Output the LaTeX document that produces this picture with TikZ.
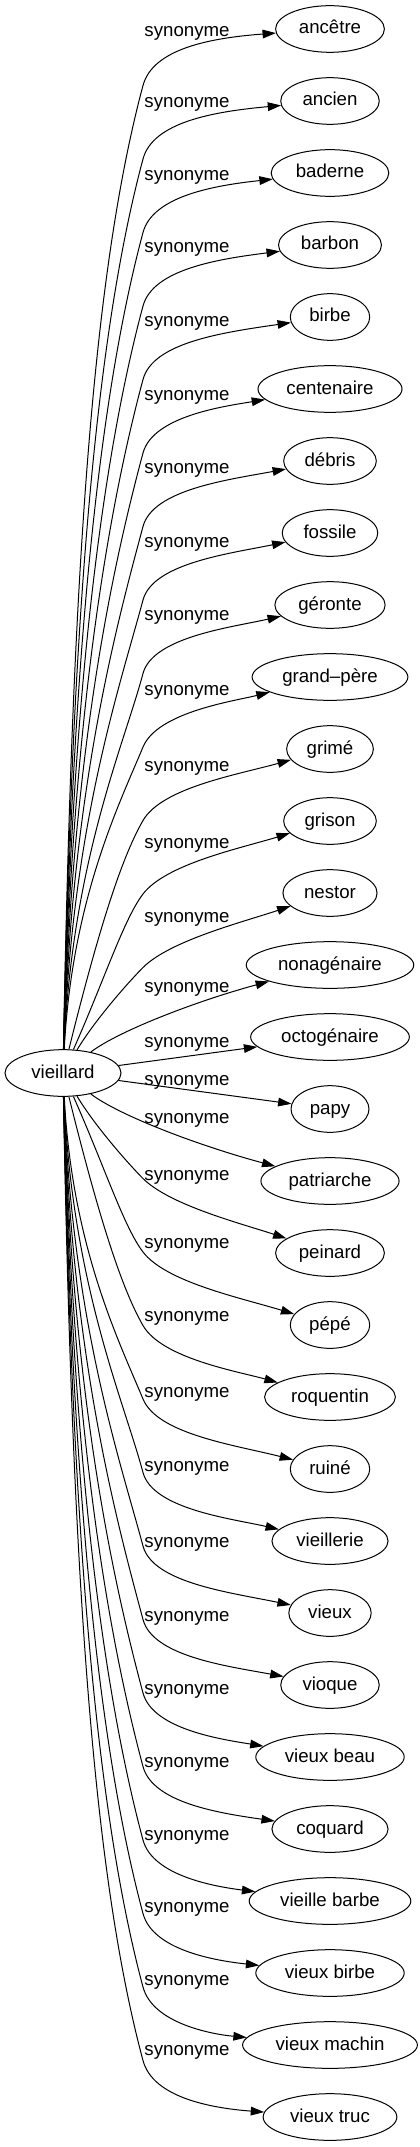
\documentclass[tikz,border=0pt]{standalone}
\usepackage{fontspec}
\setmainfont{Liberation Sans}
\usepackage{tikz}
\usetikzlibrary{shapes.geometric, arrows.meta, calc}

\tikzset{
  word/.style={ellipse, draw, line width=0.75pt, inner xsep=5.5pt, inner ysep=3pt,
    minimum height=35pt, text height=10.5pt, text depth=3pt,
    font=\fontsize{14pt}{16pt}\selectfont},
  rel/.style={inner sep=0pt, anchor=base, font=\fontsize{14pt}{16pt}\selectfont},
  syn/.style={draw, line width=0.75pt, -{Triangle[length=10pt, width=6.5pt]}},
}

\begin{document}
\begin{tikzpicture}[x=0.75pt, y=0.75pt]
  \useasboundingbox (0,0) rectangle (420,-2147);
  % Head word
  \node[word, minimum width=87pt] (v) at (63,-1073) {vieillard};
  % Synonyms, one per row
  \foreach \i/\w in {1/ancêtre, 2/ancien, 3/baderne, 4/barbon, 5/birbe, 6/centenaire,
      7/débris, 8/fossile, 9/géronte, 10/grand–père, 11/grimé, 12/grison, 13/nestor,
      14/nonagénaire, 15/octogénaire, 16/papy, 17/patriarche, 18/peinard, 19/pépé,
      20/roquentin, 21/ruiné, 22/vieillerie, 23/vieux, 24/vioque, 25/vieux beau,
      26/coquard, 27/vieille barbe, 28/vieux birbe, 29/vieux machin, 30/vieux truc} {
    \node[word] (n\i) at (330, {-29-72*(\i-1)}) {\w};
  }
  % Edge labels
  \foreach \i/\ly in {1/32, 2/103, 3/176, 4/248, 5/322, 6/395, 7/468, 8/542, 9/615,
      10/690, 11/766, 12/843, 13/917, 14/987, 15/1042, 16/1080, 17/1118, 18/1175,
      19/1243, 20/1316, 21/1392, 22/1466, 23/1542, 24/1616, 25/1689, 26/1762,
      27/1835, 28/1907, 29/1980, 30/2050} {
    \node[rel] (l\i) at (187, {-\ly-5}) {synonyme};
  }
  % Long edges, same bend above and below
  \foreach \sg/\off/\base in {-1/0/0, 1/-2146/31} {
    \foreach \row in {1,...,13} {
      \pgfmathtruncatemacro{\tgt}{abs(\base-\row)}
      \pgfmathsetmacro{\yy}{29+72*(\row-1)}
      \pgfmathsetmacro{\byy}{\yy+55+1.5*\row}
      \pgfmathsetmacro{\hh}{1050-\byy}
      \pgfmathsetmacro{\al}{75-7.5*max(0,\row-9)}
      \pgfmathsetmacro{\ga}{89-12.33*max(0,\row-10)}
      \coordinate (b\tgt) at (143, {\sg*\byy+\off});
      \draw[syn] (v)
        .. controls ({64+0.6*(\row-1)+0.5*\hh*cos(\ga)}, {\sg*(1050-0.5*\hh*sin(\ga))+\off})
           and ({143-0.2*\hh*cos(\al)}, {\sg*(\byy+0.2*\hh*sin(\al))+\off}) .. (b\tgt)
        .. controls ({143+38*cos(\al)}, {\sg*(\byy-38*sin(\al))+\off})
           and ({210+2.75*(\row-1)}, {\sg*(\yy+9+1.667*(\row-1))+\off}) .. (n\tgt);
    }
  }
  % Short edges near the head word
  \draw[syn] (v) .. controls (120,-1030) and (200,-1000) .. (n14);
  \draw[syn] (v) -- (n15);
  \draw[syn] (v) -- (n16);
  \draw[syn] (v) .. controls (120,-1116) and (200,-1146) .. (n17);
\end{tikzpicture}
\end{document}
